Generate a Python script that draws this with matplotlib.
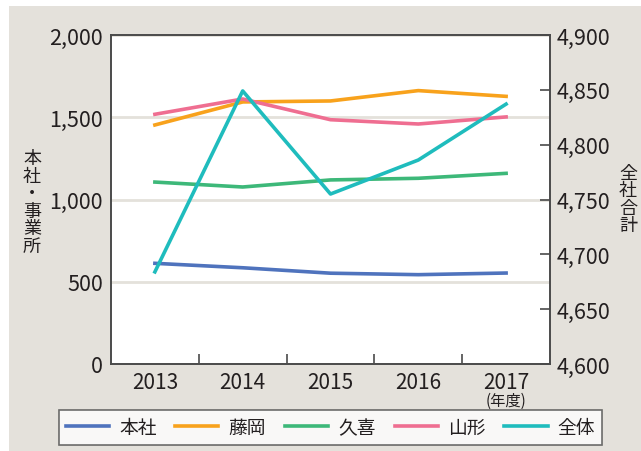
import matplotlib.pyplot as plt
from matplotlib.patches import Rectangle
from matplotlib.ticker import FuncFormatter, FixedLocator

plt.rcParams['font.family'] = ['Noto Sans CJK JP', 'DejaVu Sans']

# データ
years = ["2013", "2014", "2015", "2016", "2017"]
honsha = [612, 585, 552, 543, 553]
fujioka = [1453, 1593, 1599, 1662, 1627]
kuki = [1106, 1076, 1119, 1129, 1159]
yamagata = [1518, 1611, 1485, 1459, 1502]
zentai = [4684, 4849, 4755, 4786, 4837]

c_honsha = "#4f73bd"
c_fujioka = "#f8a21c"
c_kuki = "#3db879"
c_yamagata = "#ef6e91"
c_zentai = "#1fbcbd"
bg = "#e4e1db"
dark = "#4a4a4a"
txt = "#231f20"

fig = plt.figure(figsize=(6.41, 4.52), dpi=100)
fig.patch.set_facecolor("white")
fig.patches.append(Rectangle((9 / 641, 0), 1, 445 / 452, transform=fig.transFigure,
                             facecolor=bg, edgecolor="none", zorder=-10))

ax = fig.add_axes([111 / 641, 87 / 452, 439 / 641, 329 / 452])
ax.set_facecolor("white")
x = list(range(len(years)))

lw = 2.6
ax.plot(x, honsha, color=c_honsha, lw=lw, label="本社", zorder=3)
ax.plot(x, fujioka, color=c_fujioka, lw=lw, label="藤岡", zorder=3)
ax.plot(x, kuki, color=c_kuki, lw=lw, label="久喜", zorder=3)
ax.plot(x, yamagata, color=c_yamagata, lw=lw, label="山形", zorder=3)

ax.set_xlim(-0.5, 4.5)
ax.set_ylim(0, 2000)
ax.set_yticks([0, 500, 1000, 1500, 2000])
ax.yaxis.set_major_formatter(FuncFormatter(lambda v, p: f"{int(v):,}"))
ax.set_xticks(x)
ax.set_xticklabels(years)
ax.xaxis.set_minor_locator(FixedLocator([0.5, 1.5, 2.5, 3.5]))
ax.tick_params(axis="x", which="major", length=0, labelsize=15, colors=txt, pad=5)
ax.tick_params(axis="x", which="minor", direction="in", length=7, width=1.2, color=dark)
ax.tick_params(axis="y", length=0, labelsize=15.5, colors=txt, pad=6)
ax.grid(axis="y", color=bg, lw=2, zorder=1)
for s in ax.spines.values():
    s.set_color(dark)
    s.set_linewidth(1.2)

ax2 = ax.twinx()
ax2.plot(x, zentai, color=c_zentai, lw=lw, label="全体", zorder=3)
ax2.set_ylim(4600, 4900)
ax2.set_yticks(range(4600, 4901, 50))
ax2.yaxis.set_major_formatter(FuncFormatter(lambda v, p: f"{int(v):,}"))
ax2.tick_params(axis="y", direction="in", length=7, width=1.2, color=dark,
                labelsize=15.5, labelcolor=txt, pad=5)
for s in ax2.spines.values():
    s.set_color(dark)
    s.set_linewidth(1.2)

# 軸ラベル(縦書き)
fig.text(32 / 641, 1 - 203 / 452, "\n".join("本社・事業所"), ha="center", va="center",
         fontsize=13, color=txt, linespacing=0.97)
fig.text(628 / 641, 1 - 200 / 452, "\n".join("全社合計"), ha="center", va="center",
         fontsize=13, color=txt, linespacing=0.97)
fig.text(506 / 641, 1 - 401 / 452, "(年度)", ha="center", va="center",
         fontsize=11, color=txt)

h1, l1 = ax.get_legend_handles_labels()
h2, l2 = ax2.get_legend_handles_labels()
leg = fig.legend(h1 + h2, l1 + l2, loc="center", bbox_to_anchor=(330.5 / 641, 1 - 428.5 / 452),
                 ncol=5, fontsize=13.5, frameon=True, fancybox=False, edgecolor=dark,
                 handlelength=2.3, handletextpad=0.55, columnspacing=1.0,
                 borderpad=0.35, borderaxespad=0)
leg.get_frame().set_linewidth(1.2)
for t in leg.get_texts():
    t.set_color(txt)

fig.savefig("out.png", dpi=100, facecolor=fig.get_facecolor())
